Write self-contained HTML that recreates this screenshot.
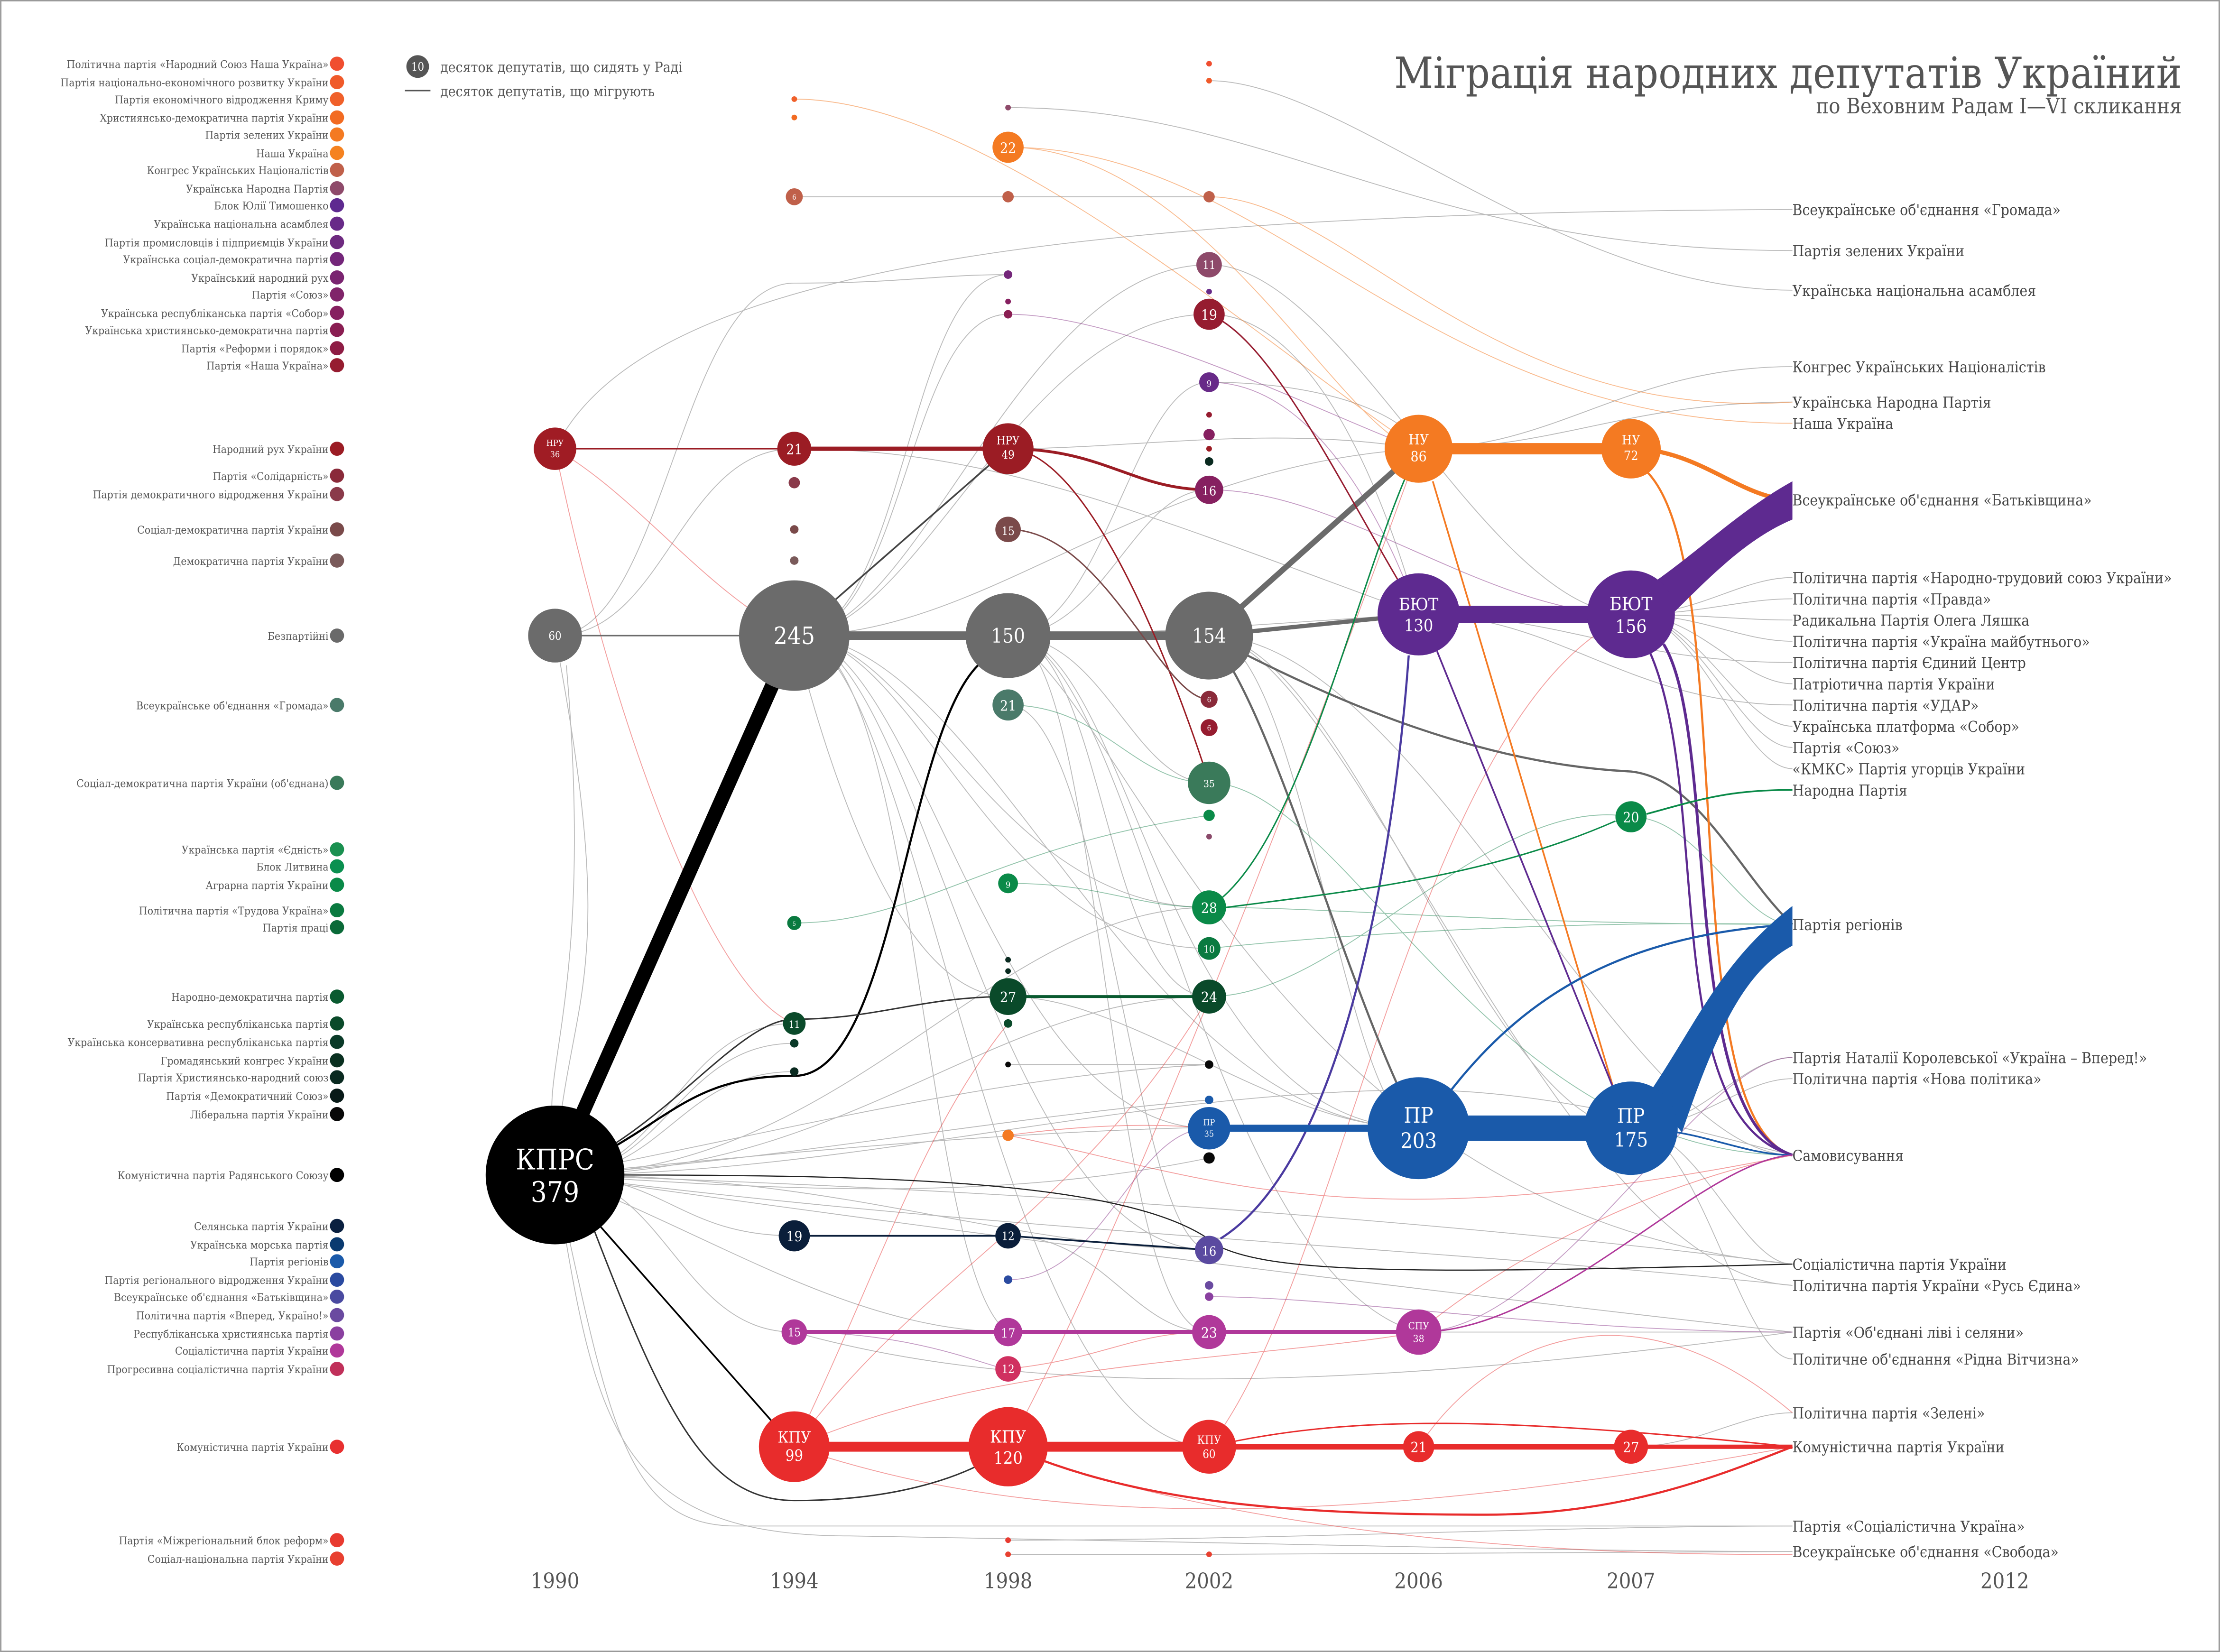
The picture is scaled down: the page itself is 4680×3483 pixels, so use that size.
<!DOCTYPE html>
<html><head><meta charset="utf-8"><style>
html,body{margin:0;padding:0;background:#fff}
svg{display:block}
text{font-family:"DejaVu Serif","Liberation Serif",serif;font-stretch:condensed}
.l{font-size:7.6px;fill:#555;text-anchor:end}
.r{font-size:10.6px;fill:#444}
.n{fill:#fff;text-anchor:middle}
.t{fill:none;stroke-width:.6;opacity:.5}
</style></head><body>
<svg width="4680" height="3483" viewBox="0 0 1568 1167" xmlns="http://www.w3.org/2000/svg">
<rect x="0.5" y="0.5" width="1567" height="1166" fill="#fff" stroke="#999" stroke-width="1"/>

<text x="1541" y="62" text-anchor="end" font-size="30" fill="#555">Міграція народних депутатів Україний</text>
<text x="1541" y="80" text-anchor="end" font-size="15" fill="#555">по Веховним Радам I—VI скликання</text>
<circle cx="295" cy="47" r="8" fill="#555"/><text x="295" y="50" class="n" font-size="8">10</text>
<text x="311" y="51" font-size="10" fill="#555">десяток депутатів, що сидять у Раді</text>
<line x1="286" y1="64" x2="304" y2="64" stroke="#555" stroke-width="1"/>
<text x="311" y="68" font-size="10" fill="#555">десяток депутатів, що мігрують</text>

<g class="t" stroke="#777">
<path d="M392,830 C470,830 480,723 561,723"/>
<path d="M392,830 C470,830 480,737 561,737"/>
<path d="M392,830 C470,830 480,757 561,757"/>
<path d="M392,830 C470,830 480,873 561,873"/>
<path d="M392,830 C470,830 480,941 561,941"/>
<path d="M392,830 C600,830 700,880 854,883"/>
<path d="M392,830 C600,830 700,704 854,704"/>
<path d="M392,830 C600,830 700,641 854,641"/>
<path d="M392,830 C600,810 800,790 1002,797"/>
<path d="M392,830 C700,840 1000,860 1266,893"/>
<path d="M392,830 C700,870 1000,880 1266,908"/>
<path d="M392,830 C430,1000 440,1078 520,1078 L1266,1078"/>
<path d="M392,830 C420,1000 430,1085 600,1085 C900,1090 1100,1096 1266,1096"/>
<path d="M392,830 C600,830 800,770 1002,770 C1100,770 1200,800 1266,816"/>
<path d="M392,830 C600,860 900,900 1266,941"/>
<path d="M392,830 C500,870 600,940 712,941"/>
<path d="M392,830 C550,840 700,850 854,818"/>
<path d="M392,830 C550,820 700,790 854,777"/>
<path d="M392,830 C550,800 700,760 854,752"/>
<path d="M392,449 C470,449 480,317 561,317"/>
<path d="M392,449 C470,449 480,200 561,200 C640,200 660,194 712,194"/>
<path d="M392,449 C440,700 400,700 392,830"/>
<path d="M400,470 C420,700 380,760 392,800"/>
<path d="M561,449 C640,449 640,194 712,194"/>
<path d="M561,449 C640,449 640,222 712,222"/>
<path d="M561,449 C650,449 720,187 854,187"/>
<path d="M561,449 C650,449 720,222 854,222"/>
<path d="M561,449 C650,449 700,641 854,641"/>
<path d="M561,449 C650,449 700,670 854,670"/>
<path d="M561,449 C650,449 700,797 854,797"/>
<path d="M561,449 C650,449 700,883 854,883"/>
<path d="M561,449 C650,449 700,1022 854,1022"/>
<path d="M561,449 C700,449 800,797 1002,797"/>
<path d="M561,449 C700,449 800,330 1002,317"/>
<path d="M561,449 C600,600 650,704 712,704"/>
<path d="M561,449 C650,449 650,900 712,941"/>
<path d="M712,449 C780,449 780,704 854,704"/>
<path d="M712,449 C780,449 780,941 854,941"/>
<path d="M712,449 C800,449 850,900 1002,941"/>
<path d="M712,449 C800,449 820,797 1002,797"/>
<path d="M712,449 C800,500 900,860 1266,893"/>
<path d="M712,449 C780,449 800,270 854,270"/>
<path d="M712,449 C780,449 800,346 854,346"/>
<path d="M712,449 C800,449 900,440 1002,434"/>
<path d="M712,449 C780,449 800,553 854,553"/>
<path d="M854,449 C920,449 950,797 1002,797"/>
<path d="M854,449 C950,449 1050,797 1152,797"/>
<path d="M854,449 C1000,449 1150,816 1266,816"/>
<path d="M854,449 C950,449 1100,900 1266,908"/>
<path d="M712,498 C780,498 800,880 854,883"/>
<path d="M712,704 C800,704 900,797 1002,797"/>
<path d="M712,873 C780,873 800,941 854,941"/>
<path d="M854,222 C950,222 1000,434 1002,434"/>
<path d="M854,187 C950,187 1050,434 1152,434"/>
<path d="M854,270 C950,270 1000,300 1002,317"/>
<path d="M1002,317 C1100,317 1150,284 1266,284"/>
<path d="M1002,317 C1100,317 1150,259 1266,259"/>
<path d="M1002,434 C1100,434 1150,498 1266,498"/>
<path d="M1002,434 C1100,434 1150,468 1266,468"/>
<path d="M1152,434 C1200,434 1230,408 1266,408"/>
<path d="M1152,434 C1200,434 1230,423 1266,423"/>
<path d="M1152,434 C1200,434 1230,438 1266,438"/>
<path d="M1152,434 C1200,434 1230,453 1266,453"/>
<path d="M1152,434 C1200,434 1230,483 1266,483"/>
<path d="M1152,434 C1200,434 1230,513 1266,513"/>
<path d="M1152,434 C1200,434 1230,528 1266,528"/>
<path d="M1152,434 C1200,434 1230,543 1266,543"/>
<path d="M1152,797 C1200,797 1230,762 1266,762"/>
<path d="M1152,797 C1200,797 1230,747 1266,747"/>
<path d="M1152,797 C1200,797 1230,893 1266,893"/>
<path d="M1152,797 C1200,797 1230,960 1266,960"/>
<path d="M1002,941 C1100,941 1150,941 1266,941"/>
<path d="M1152,1022 C1200,1022 1230,998 1266,998"/>
<path d="M561,317 C700,317 800,360 1002,434"/>
<path d="M712,317 C800,317 900,300 1002,317"/>
<path d="M392,317 C450,200 700,150 1266,148"/>
<path d="M561,139 L712,139 L854,139"/>
<path d="M712,76 C900,76 1000,177 1266,177"/>
<path d="M854,57 C950,57 1100,205 1266,205"/>
<path d="M712,752 L854,752"/>
<path d="M712,1088 C900,1088 1100,1078 1266,1078"/>
<path d="M712,1098 L854,1098 C1000,1098 1100,1096 1266,1096"/>
<path d="M561,941 C700,980 900,990 1266,941"/>
</g>
<g class="t" stroke="#e84040">
<path d="M392,317 C430,500 500,700 561,723"/>
<path d="M392,317 C450,350 500,420 561,449"/>
<path d="M561,1022 C620,900 650,800 712,723"/>
<path d="M561,1022 C650,900 760,860 854,704"/>
<path d="M712,1022 C780,900 900,600 1002,317"/>
<path d="M854,1022 C950,900 1000,500 1152,434"/>
<path d="M561,1022 C700,960 900,960 1002,941"/>
<path d="M712,1022 C800,1060 1000,1100 1266,1098"/>
<path d="M561,1022 C700,1070 900,1090 1266,1022"/>
<path d="M1002,1022 C1050,950 1150,900 1266,998"/>
<path d="M712,967 C780,960 800,941 854,941"/>
<path d="M712,802 C800,790 850,797 854,797"/>
<path d="M712,802 C850,830 950,880 1266,816"/>
<path d="M1002,941 C1050,900 1150,840 1266,816"/>
</g>
<g class="t" stroke="#2a8a5a">
<path d="M712,624 C780,624 800,641 854,641"/>
<path d="M854,553 C950,553 1050,816 1266,816"/>
<path d="M854,670 C950,660 1100,650 1266,653"/>
<path d="M854,641 C950,641 1050,653 1266,653"/>
<path d="M854,704 C950,704 1050,560 1152,577"/>
<path d="M712,498 C780,498 800,553 854,553"/>
<path d="M561,652 C650,652 700,598 854,576"/>
<path d="M1152,577 C1200,577 1230,653 1266,653"/>
</g>
<g class="t" stroke="#8a3a8a">
<path d="M854,270 C950,270 1000,434 1002,434"/>
<path d="M854,346 C950,346 1050,434 1152,434"/>
<path d="M712,222 C800,222 950,300 1002,317"/>
<path d="M854,916 C950,916 1100,941 1266,941"/>
<path d="M561,941 C650,941 700,967 712,967"/>
<path d="M1002,941 C1100,941 1200,747 1266,747"/>
<path d="M712,904 C780,904 800,797 854,797"/>
</g>
<g class="t" stroke="#f47a22">
<path d="M712,104 C850,104 950,310 1002,317"/>
<path d="M712,104 C900,104 1000,299 1266,299"/>
<path d="M854,139 C950,139 1050,299 1266,284"/>
<path d="M561,70 C700,70 900,250 1002,317"/>
</g>

<g fill="none">
<path d="M392,830 C470,800 480,760 561,760 C640,760 640,460 712,460" stroke="#000" stroke-width="1.5"/>
<path d="M392,830 C470,800 520,720 561,720 C620,720 650,704 712,704" stroke="#333" stroke-width="1"/>
<path d="M392,830 L561,1022" stroke="#000" stroke-width="1.2"/>
<path d="M420,870 C470,1000 500,1060 561,1060 C640,1060 690,1040 712,1022" stroke="#333" stroke-width="1"/>
<path d="M392,830 C600,830 800,830 860,880 C900,900 1000,900 1266,893" stroke="#222" stroke-width=".8"/>
<path d="M392,830 L561,449" stroke="#000" stroke-width="10"/>
<path d="M561,449 L712,317" stroke="#444" stroke-width="1.2"/>
<path d="M561,449 L854,449" stroke="#6b6b6b" stroke-width="6"/>
<path d="M854,449 L1002,317" stroke="#6b6b6b" stroke-width="4"/>
<path d="M854,449 L1002,434" stroke="#6b6b6b" stroke-width="3"/>
<path d="M854,449 C900,500 950,700 1002,797" stroke="#666" stroke-width="1.5"/>
<path d="M854,449 C950,500 1050,540 1152,545 C1200,550 1230,620 1266,653" stroke="#666" stroke-width="1.5"/>
<path d="M392,449 L561,449" stroke="#6b6b6b" stroke-width="1"/>
<path d="M392,317 L561,317" stroke="#9b1c24" stroke-width="1"/>
<path d="M561,317 L712,317" stroke="#9b1c24" stroke-width="3"/>
<path d="M712,317 C780,317 800,346 854,346" stroke="#9b1c24" stroke-width="2"/>
<path d="M712,317 C780,317 850,540 854,553" stroke="#9b1c24" stroke-width="1"/>
<path d="M712,374 C780,374 820,494 854,494" stroke="#7a4a4a" stroke-width="1"/>
<path d="M854,222 C900,240 950,350 1002,434" stroke="#961c30" stroke-width="1"/>
<path d="M1002,317 L1152,317" stroke="#f47a22" stroke-width="8"/>
<path d="M1152,317 C1200,317 1230,353 1266,353" stroke="#f47a22" stroke-width="3"/>
<path d="M1163,333 C1230,400 1180,790 1266,816" stroke="#f47a22" stroke-width="1.5"/>
<path d="M1012,340 L1140,770" stroke="#f47a22" stroke-width="1.2"/>
<path d="M1002,434 L1152,434" stroke="#5e2a90" stroke-width="12"/>
<path d="M1015,460 L1140,770" stroke="#5e2a90" stroke-width="1.2"/>
<path d="M995,463 C985,600 950,820 862,875" stroke="#4a3aa0" stroke-width="1.5"/>
<path d="M1175,455 C1215,520 1185,790 1266,816" stroke="#5e2a90" stroke-width="2"/>
<path d="M1165,460 C1210,560 1170,790 1266,816" stroke="#5e2a90" stroke-width="1.5"/>
<path d="M1163,575 C1200,565 1220,558 1266,558" stroke="#0a8a48" stroke-width="1.2"/>
<path d="M866,641 C950,630 1050,620 1141,580" stroke="#0a8a48" stroke-width="1"/>
<path d="M854,641 C920,600 960,400 1002,317" stroke="#0a8a48" stroke-width="1"/>
<path d="M712,704 L854,704" stroke="#0a5a30" stroke-width="2"/>
<path d="M561,873 L712,873 L854,883" stroke="#0a1e3a" stroke-width="1.2"/>
<path d="M854,797 L1002,797" stroke="#1a5aaa" stroke-width="5"/>
<path d="M1002,797 L1152,797" stroke="#1a5aaa" stroke-width="18"/>
<path d="M1025,770 C1080,700 1150,660 1266,653" stroke="#1a5aaa" stroke-width="1.5"/>
<path d="M1152,797 C1200,797 1230,816 1266,816" stroke="#1a5aaa" stroke-width="1.2"/>
<path d="M561,941 L1002,941" stroke="#b0389a" stroke-width="3"/>
<path d="M1002,941 C1100,941 1200,820 1266,816" stroke="#b0389a" stroke-width="1"/>
<path d="M561,1022 L854,1022" stroke="#e82c2c" stroke-width="7"/>
<path d="M854,1022 L1152,1022" stroke="#e82c2c" stroke-width="4"/>
<path d="M1152,1022 L1266,1022" stroke="#e82c2c" stroke-width="3"/>
<path d="M712,1022 C800,1060 900,1070 1050,1070 C1150,1070 1220,1040 1266,1022" stroke="#e82c2c" stroke-width="1.5"/>
<path d="M854,1022 C950,1000 1050,1000 1266,1022" stroke="#e82c2c" stroke-width="1"/>
</g>
<path d="M1170,410 C1205,385 1230,360 1266,340 L1266,367 C1235,380 1210,405 1180,435 Z" fill="#5e2a90"/>
<path d="M1165,772 C1200,720 1215,680 1266,640 L1266,668 C1235,685 1215,720 1188,800 Z" fill="#1a5aaa"/>

<g>
<circle cx="392" cy="830" r="49" fill="#000"/><text x="392" y="826" class="n" font-size="20">КПРС</text><text x="392" y="849" class="n" font-size="20">379</text>
<circle cx="392" cy="317" r="15" fill="#a01c24"/><text x="392" y="315" class="n" font-size="6">НРУ</text><text x="392" y="323" class="n" font-size="6">36</text>
<circle cx="392" cy="449" r="19" fill="#6b6b6b"/><text x="392" y="452" class="n" font-size="8">60</text>

<circle cx="561" cy="317" r="12" fill="#9b1c24"/><text x="561" y="321" class="n" font-size="10">21</text>
<circle cx="561" cy="449" r="39" fill="#6b6b6b"/><text x="561" y="455" class="n" font-size="17">245</text>
<circle cx="561" cy="723" r="8" fill="#0a4a2a"/><text x="561" y="726" class="n" font-size="7">11</text>
<circle cx="561" cy="873" r="11" fill="#0a1e3a"/><text x="561" y="877" class="n" font-size="10">19</text>
<circle cx="561" cy="941" r="9" fill="#b0389a"/><text x="561" y="944" class="n" font-size="8">15</text>
<circle cx="561" cy="1022" r="25" fill="#e82c2c"/><text x="561" y="1019" class="n" font-size="11">КПУ</text><text x="561" y="1032" class="n" font-size="11">99</text>
<circle cx="561" cy="341" r="4" fill="#8a3a4a"/><circle cx="561" cy="374" r="3" fill="#7a4a4a"/><circle cx="561" cy="396" r="3" fill="#7a5a5a"/>
<circle cx="561" cy="139" r="6" fill="#c0604a"/><text x="561" y="141" class="n" font-size="5">6</text><circle cx="561" cy="70" r="2" fill="#f0602a"/><circle cx="561" cy="83" r="2" fill="#f26b22"/>
<circle cx="561" cy="652" r="5" fill="#0a7a40"/><text x="561" y="654" class="n" font-size="4">5</text><circle cx="561" cy="737" r="3" fill="#0a3a28"/><circle cx="561" cy="757" r="3" fill="#0a2a20"/>

<circle cx="712" cy="104" r="11" fill="#f47a22"/><text x="712" y="108" class="n" font-size="10">22</text>
<circle cx="712" cy="139" r="4" fill="#c0604a"/><circle cx="712" cy="76" r="2" fill="#8e4a6a"/>
<circle cx="712" cy="194" r="3" fill="#74267a"/><circle cx="712" cy="213" r="2" fill="#862060"/><circle cx="712" cy="222" r="3" fill="#8a1e52"/>
<circle cx="712" cy="317" r="18" fill="#9b1c24"/><text x="712" y="314" class="n" font-size="8">НРУ</text><text x="712" y="324" class="n" font-size="8">49</text>
<circle cx="712" cy="374" r="9" fill="#7a4a4a"/><text x="712" y="378" class="n" font-size="8">15</text>
<circle cx="712" cy="449" r="30" fill="#6b6b6b"/><text x="712" y="454" class="n" font-size="14">150</text>
<circle cx="712" cy="498" r="11" fill="#4a7a6a"/><text x="712" y="502" class="n" font-size="10">21</text>
<circle cx="712" cy="624" r="7" fill="#0a8a48"/><text x="712" y="627" class="n" font-size="6">9</text>
<circle cx="712" cy="678" r="2" fill="#0a2a20"/><circle cx="712" cy="686" r="2" fill="#0a2a20"/>
<circle cx="712" cy="704" r="13" fill="#0a4a2a"/><text x="712" y="708" class="n" font-size="10">27</text>
<circle cx="712" cy="723" r="3" fill="#0a4a2a"/><circle cx="712" cy="752" r="2" fill="#080808"/>
<circle cx="712" cy="802" r="4" fill="#f47a22"/>
<circle cx="712" cy="873" r="9" fill="#0a1e3a"/><text x="712" y="876" class="n" font-size="8">12</text>
<circle cx="712" cy="904" r="3" fill="#2a4aa0"/>
<circle cx="712" cy="941" r="10" fill="#b0389a"/><text x="712" y="945" class="n" font-size="9">17</text>
<circle cx="712" cy="967" r="9" fill="#d03060"/><text x="712" y="970" class="n" font-size="8">12</text>
<circle cx="712" cy="1022" r="28" fill="#e82c2c"/><text x="712" y="1019" class="n" font-size="12">КПУ</text><text x="712" y="1034" class="n" font-size="12">120</text>
<circle cx="712" cy="1088" r="2" fill="#e83a30"/><circle cx="712" cy="1098" r="2" fill="#e84030"/>

<circle cx="854" cy="45" r="2" fill="#f04e30"/><circle cx="854" cy="57" r="2" fill="#f05a2a"/>
<circle cx="854" cy="139" r="4" fill="#c0604a"/>
<circle cx="854" cy="187" r="9" fill="#8e4a6a"/><text x="854" y="190" class="n" font-size="8">11</text>
<circle cx="854" cy="206" r="2" fill="#682a88"/>
<circle cx="854" cy="222" r="11" fill="#961c30"/><text x="854" y="226" class="n" font-size="10">19</text>
<circle cx="854" cy="270" r="7" fill="#682a88"/><text x="854" y="273" class="n" font-size="6">9</text>
<circle cx="854" cy="293" r="2" fill="#961c30"/><circle cx="854" cy="307" r="4" fill="#862060"/><circle cx="854" cy="317" r="2" fill="#9b1c24"/><circle cx="854" cy="326" r="3" fill="#0a2a20"/>
<circle cx="854" cy="346" r="10" fill="#862060"/><text x="854" y="350" class="n" font-size="9">16</text>
<circle cx="854" cy="449" r="31" fill="#6b6b6b"/><text x="854" y="454" class="n" font-size="14">154</text>
<circle cx="854" cy="494" r="6" fill="#8a2a3a"/><text x="854" y="496" class="n" font-size="5">6</text><circle cx="854" cy="514" r="6" fill="#961c30"/><text x="854" y="516" class="n" font-size="5">6</text>
<circle cx="854" cy="553" r="15" fill="#3a7a5a"/><text x="854" y="556" class="n" font-size="7">35</text>
<circle cx="854" cy="576" r="4" fill="#0a8a48"/><circle cx="854" cy="591" r="2" fill="#8a4a6a"/>
<circle cx="854" cy="641" r="12" fill="#0a8a48"/><text x="854" y="645" class="n" font-size="10">28</text>
<circle cx="854" cy="670" r="8" fill="#0a7a40"/><text x="854" y="673" class="n" font-size="7">10</text>
<circle cx="854" cy="704" r="12" fill="#0a4a2a"/><text x="854" y="708" class="n" font-size="10">24</text>
<circle cx="854" cy="752" r="3" fill="#080808"/><circle cx="854" cy="777" r="3" fill="#1a5aaa"/>
<circle cx="854" cy="797" r="15" fill="#1a5aaa"/><text x="854" y="795" class="n" font-size="6">ПР</text><text x="854" y="803" class="n" font-size="6">35</text>
<circle cx="854" cy="818" r="4" fill="#080808"/>
<circle cx="854" cy="883" r="10" fill="#5a4aa0"/><text x="854" y="887" class="n" font-size="9">16</text>
<circle cx="854" cy="908" r="3" fill="#6a4aa0"/><circle cx="854" cy="916" r="3" fill="#8a40a0"/>
<circle cx="854" cy="941" r="12" fill="#b0389a"/><text x="854" y="945" class="n" font-size="10">23</text>
<circle cx="854" cy="1022" r="19" fill="#e82c2c"/><text x="854" y="1020" class="n" font-size="8">КПУ</text><text x="854" y="1030" class="n" font-size="8">60</text>
<circle cx="854" cy="1098" r="2" fill="#e84030"/>

<circle cx="1002" cy="317" r="24" fill="#f47a22"/><text x="1002" y="314" class="n" font-size="10">НУ</text><text x="1002" y="326" class="n" font-size="10">86</text>
<circle cx="1002" cy="434" r="29" fill="#5e2a90"/><text x="1002" y="431" class="n" font-size="12">БЮТ</text><text x="1002" y="446" class="n" font-size="12">130</text>
<circle cx="1002" cy="797" r="36" fill="#1a5aaa"/><text x="1002" y="793" class="n" font-size="15">ПР</text><text x="1002" y="811" class="n" font-size="15">203</text>
<circle cx="1002" cy="941" r="16" fill="#b0389a"/><text x="1002" y="939" class="n" font-size="7">СПУ</text><text x="1002" y="948" class="n" font-size="7">38</text>
<circle cx="1002" cy="1022" r="11" fill="#e82c2c"/><text x="1002" y="1026" class="n" font-size="10">21</text>

<circle cx="1152" cy="317" r="21" fill="#f47a22"/><text x="1152" y="314" class="n" font-size="9">НУ</text><text x="1152" y="325" class="n" font-size="9">72</text>
<circle cx="1152" cy="434" r="31" fill="#5e2a90"/><text x="1152" y="431" class="n" font-size="13">БЮТ</text><text x="1152" y="447" class="n" font-size="13">156</text>
<circle cx="1152" cy="577" r="11" fill="#0a8a48"/><text x="1152" y="581" class="n" font-size="10">20</text>
<circle cx="1152" cy="797" r="33" fill="#1a5aaa"/><text x="1152" y="793" class="n" font-size="14">ПР</text><text x="1152" y="810" class="n" font-size="14">175</text>
<circle cx="1152" cy="1022" r="12" fill="#e82c2c"/><text x="1152" y="1026" class="n" font-size="10">27</text>
</g>

<g>
<text class="l" x="232" y="48">Політична партія «Народний Союз Наша Україна»</text><circle cx="238" cy="45" r="5" fill="#f04e30"/>
<text class="l" x="232" y="61">Партія національно-економічного розвитку України</text><circle cx="238" cy="58" r="5" fill="#f05a2a"/>
<text class="l" x="232" y="73">Партія економічного відродження Криму</text><circle cx="238" cy="70" r="5" fill="#f0602a"/>
<text class="l" x="232" y="86">Християнсько-демократична партія України</text><circle cx="238" cy="83" r="5" fill="#f26b22"/>
<text class="l" x="232" y="98">Партія зелених України</text><circle cx="238" cy="95" r="5" fill="#f47a22"/>
<text class="l" x="232" y="111">Наша Україна</text><circle cx="238" cy="108" r="5" fill="#f58220"/>
<text class="l" x="232" y="123">Конгрес Українських Націоналістів</text><circle cx="238" cy="120" r="5" fill="#c0604a"/>
<text class="l" x="232" y="136">Українська Народна Партія</text><circle cx="238" cy="133" r="5" fill="#8e4a6a"/>
<text class="l" x="232" y="148">Блок Юлії Тимошенко</text><circle cx="238" cy="145" r="5" fill="#5e2a90"/>
<text class="l" x="232" y="161">Українська національна асамблея</text><circle cx="238" cy="158" r="5" fill="#682a88"/>
<text class="l" x="232" y="174">Партія промисловців і підприємців України</text><circle cx="238" cy="171" r="5" fill="#6e2a80"/>
<text class="l" x="232" y="186">Українська соціал-демократична партія</text><circle cx="238" cy="183" r="5" fill="#74267a"/>
<text class="l" x="232" y="199">Український народний рух</text><circle cx="238" cy="196" r="5" fill="#7a2470"/>
<text class="l" x="232" y="211">Партія «Союз»</text><circle cx="238" cy="208" r="5" fill="#80246a"/>
<text class="l" x="232" y="224">Українська республіканська партія «Собор»</text><circle cx="238" cy="221" r="5" fill="#862060"/>
<text class="l" x="232" y="236">Українська християнсько-демократична партія</text><circle cx="238" cy="233" r="5" fill="#8a1e52"/>
<text class="l" x="232" y="249">Партія «Реформи і порядок»</text><circle cx="238" cy="246" r="5" fill="#8e1c44"/>
<text class="l" x="232" y="261">Партія «Наша Україна»</text><circle cx="238" cy="258" r="5" fill="#961c30"/>
<text class="l" x="232" y="320">Народний рух України</text><circle cx="238" cy="317" r="5" fill="#9b1c24"/>
<text class="l" x="232" y="339">Партія «Солідарність»</text><circle cx="238" cy="336" r="5" fill="#8a2a3a"/>
<text class="l" x="232" y="352">Партія демократичного відродження України</text><circle cx="238" cy="349" r="5" fill="#8a3a4a"/>
<text class="l" x="232" y="377">Соціал-демократична партія України</text><circle cx="238" cy="374" r="5" fill="#7a4a4a"/>
<text class="l" x="232" y="399">Демократична партія України</text><circle cx="238" cy="396" r="5" fill="#7a5a5a"/>
<text class="l" x="232" y="452">Безпартійні</text><circle cx="238" cy="449" r="5" fill="#6a6a6a"/>
<text class="l" x="232" y="501">Всеукраїнське об'єднання «Громада»</text><circle cx="238" cy="498" r="5" fill="#4a7a6a"/>
<text class="l" x="232" y="556">Соціал-демократична партія України (об'єднана)</text><circle cx="238" cy="553" r="5" fill="#3a7a5a"/>
<text class="l" x="232" y="603">Українська партія «Єдність»</text><circle cx="238" cy="600" r="5" fill="#1a9050"/>
<text class="l" x="232" y="615">Блок Литвина</text><circle cx="238" cy="612" r="5" fill="#0a9050"/>
<text class="l" x="232" y="628">Аграрна партія України</text><circle cx="238" cy="625" r="5" fill="#0a8a48"/>
<text class="l" x="232" y="646">Політична партія «Трудова Україна»</text><circle cx="238" cy="643" r="5" fill="#0a7a40"/>
<text class="l" x="232" y="658">Партія праці</text><circle cx="238" cy="655" r="5" fill="#0a6a38"/>
<text class="l" x="232" y="707">Народно-демократична партія</text><circle cx="238" cy="704" r="5" fill="#0a5a30"/>
<text class="l" x="232" y="726">Українська республіканська партія</text><circle cx="238" cy="723" r="5" fill="#0a4a2a"/>
<text class="l" x="232" y="739">Українська консервативна республіканська партія</text><circle cx="238" cy="736" r="5" fill="#0a3a28"/>
<text class="l" x="232" y="752">Громадянський конгрес України</text><circle cx="238" cy="749" r="5" fill="#0a3020"/>
<text class="l" x="232" y="764">Партія Християнсько-народний союз</text><circle cx="238" cy="761" r="5" fill="#0a2a20"/>
<text class="l" x="232" y="777">Партія «Демократичний Союз»</text><circle cx="238" cy="774" r="5" fill="#081a18"/>
<text class="l" x="232" y="790">Ліберальна партія України</text><circle cx="238" cy="787" r="5" fill="#080808"/>
<text class="l" x="232" y="833">Комуністична партія Радянського Союзу</text><circle cx="238" cy="830" r="5" fill="#000"/>
<text class="l" x="232" y="869">Селянська партія України</text><circle cx="238" cy="866" r="5" fill="#0a2040"/>
<text class="l" x="232" y="882">Українська морська партія</text><circle cx="238" cy="879" r="5" fill="#0a3a70"/>
<text class="l" x="232" y="894">Партія регіонів</text><circle cx="238" cy="891" r="5" fill="#1a5aaa"/>
<text class="l" x="232" y="907">Партія регіонального відродження України</text><circle cx="238" cy="904" r="5" fill="#2a4aa0"/>
<text class="l" x="232" y="919">Всеукраїнське об'єднання «Батьківщина»</text><circle cx="238" cy="916" r="5" fill="#4a4aa0"/>
<text class="l" x="232" y="932">Політична партія «Вперед, Україно!»</text><circle cx="238" cy="929" r="5" fill="#6a4aa0"/>
<text class="l" x="232" y="945">Республіканська християнська партія</text><circle cx="238" cy="942" r="5" fill="#8a40a0"/>
<text class="l" x="232" y="957">Соціалістична партія України</text><circle cx="238" cy="954" r="5" fill="#b0389a"/>
<text class="l" x="232" y="970">Прогресивна соціалістична партія України</text><circle cx="238" cy="967" r="5" fill="#c0305a"/>
<text class="l" x="232" y="1025">Комуністична партія України</text><circle cx="238" cy="1022" r="5" fill="#e83030"/>
<text class="l" x="232" y="1091">Партія «Міжрегіональний блок реформ»</text><circle cx="238" cy="1088" r="5" fill="#e83a30"/>
<text class="l" x="232" y="1104">Соціал-національна партія України</text><circle cx="238" cy="1101" r="5" fill="#e84030"/>
</g>

<g>
<text class="r" x="1266" y="152">Всеукраїнське об'єднання «Громада»</text>
<text class="r" x="1266" y="181">Партія зелених України</text>
<text class="r" x="1266" y="209">Українська національна асамблея</text>
<text class="r" x="1266" y="263">Конгрес Українських Націоналістів</text>
<text class="r" x="1266" y="288">Українська Народна Партія</text>
<text class="r" x="1266" y="303">Наша Україна</text>
<text class="r" x="1266" y="357">Всеукраїнське об'єднання «Батьківщина»</text>
<text class="r" x="1266" y="412">Політична партія «Народно-трудовий союз України»</text>
<text class="r" x="1266" y="427">Політична партія «Правда»</text>
<text class="r" x="1266" y="442">Радикальна Партія Олега Ляшка</text>
<text class="r" x="1266" y="457">Політична партія «Україна майбутнього»</text>
<text class="r" x="1266" y="472">Політична партія Єдиний Центр</text>
<text class="r" x="1266" y="487">Патріотична партія України</text>
<text class="r" x="1266" y="502">Політична партія «УДАР»</text>
<text class="r" x="1266" y="517">Українська платформа «Собор»</text>
<text class="r" x="1266" y="532">Партія «Союз»</text>
<text class="r" x="1266" y="547">«КМКС» Партія угорців України</text>
<text class="r" x="1266" y="562">Народна Партія</text>
<text class="r" x="1266" y="657">Партія регіонів</text>
<text class="r" x="1266" y="751">Партія Наталії Королевської «Україна – Вперед!»</text>
<text class="r" x="1266" y="766">Політична партія «Нова політика»</text>
<text class="r" x="1266" y="820">Самовисування</text>
<text class="r" x="1266" y="897">Соціалістична партія України</text>
<text class="r" x="1266" y="912">Політична партія України «Русь Єдина»</text>
<text class="r" x="1266" y="945">Партія «Об'єднані ліві і селяни»</text>
<text class="r" x="1266" y="964">Політичне об'єднання «Рідна Вітчизна»</text>
<text class="r" x="1266" y="1002">Політична партія «Зелені»</text>
<text class="r" x="1266" y="1026">Комуністична партія України</text>
<text class="r" x="1266" y="1082">Партія «Соціалістична Україна»</text>
<text class="r" x="1266" y="1100">Всеукраїнське об'єднання «Свобода»</text>
</g>

<g font-size="15" fill="#555" text-anchor="middle">
<text x="392" y="1122">1990</text><text x="561" y="1122">1994</text><text x="712" y="1122">1998</text>
<text x="854" y="1122">2002</text><text x="1002" y="1122">2006</text><text x="1152" y="1122">2007</text><text x="1416" y="1122">2012</text>
</g>
</svg>
</body></html>
